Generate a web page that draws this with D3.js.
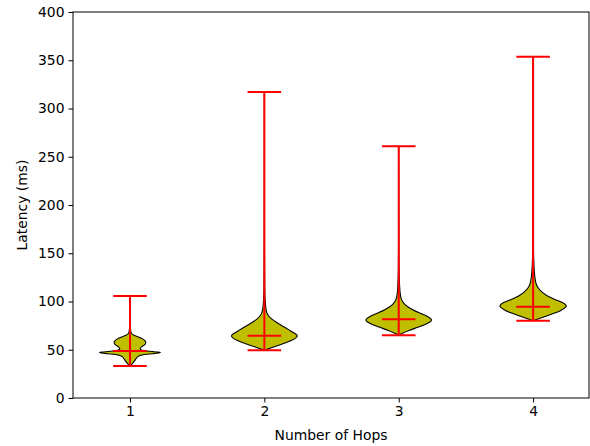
<!DOCTYPE html>
<html><head><meta charset="utf-8">
<script src="https://cdn.jsdelivr.net/npm/d3@7"></script>
<style>body{margin:0;background:#fff}text{font-family:"DejaVu Sans",sans-serif}</style>
</head><body><svg id="c" width="590" height="446"></svg>
<script>
const hops = [1, 2, 3, 4];
const yTicks = [0, 50, 100, 150, 200, 250, 300, 350, 400];
const mins = [33.2, 49.5, 65, 80.1];
const maxs = [105.7, 317, 261, 353.5];
const means = [48.8, 64.5, 81.5, 94.6];
// density profiles: [latency ms, relative half-width]
const profile1 = [[33,0],[36,0.08],[40,0.17],[43,0.22],[45,0.36],[46,0.7],[47,1.0],[48,0.72],[49,0.36],[51,0.28],[53,0.34],[55,0.44],[57,0.48],[59,0.46],[61,0.4],[63,0.28],[65,0.1],[67,0.03],[72,0.01],[85,0.004],[106,0]];
const profile2 = [[49.5,0],[52,0.2],[55,0.45],[58,0.7],[61,0.9],[64,1.0],[66,0.96],[70,0.76],[74,0.56],[78,0.38],[82,0.2],[86,0.1],[90,0.05],[100,0.025],[112,0.01],[130,0.004],[317,0]];
const profile3 = [[65,0],[67,0.1],[70,0.3],[73,0.55],[76,0.78],[79,0.95],[81,1.0],[84,0.9],[88,0.62],[92,0.38],[96,0.2],[100,0.1],[105,0.05],[115,0.025],[130,0.012],[140,0.005],[261,0]];
const profile4 = [[80,0],[82,0.15],[85,0.4],[88,0.65],[91,0.85],[94,0.98],[96,1.0],[99,0.9],[102,0.65],[106,0.4],[110,0.25],[115,0.12],[120,0.07],[130,0.035],[145,0.015],[160,0.005],[354,0]];
const profiles = [profile1, profile2, profile3, profile4];

const svg = d3.select("#c");
const L = 73, R = 589, T = 12, B = 398;
const x = d3.scaleLinear().domain([0.576, 4.416]).range([L, R]);
const y = d3.scaleLinear().domain([0, 400]).range([B, T]);
const halfW = 0.25, capW = 0.125;
const FS = 13.9;

const g = svg.append("g");
hops.forEach((h, i) => {
  const area = d3.area()
    .y(d => y(d[0]))
    .x0(d => x(h - d[1] * halfW))
    .x1(d => x(h + d[1] * halfW))
    .curve(d3.curveBasis);
  g.append("path").attr("d", area(profiles[i]))
    .attr("fill", "#bfbf00").attr("stroke", "#000").attr("stroke-width", 1.1);
  const red = "#ff0000";
  g.append("line").attr("x1", x(h)).attr("x2", x(h)).attr("y1", y(mins[i])).attr("y2", y(maxs[i]))
    .attr("stroke", red).attr("stroke-width", 2);
  [mins[i], maxs[i], means[i]].forEach(v => {
    g.append("line").attr("x1", x(h - capW)).attr("x2", x(h + capW)).attr("y1", y(v)).attr("y2", y(v))
      .attr("stroke", red).attr("stroke-width", 2);
  });
});

const ya = svg.append("g").attr("transform", `translate(${L},0)`)
  .call(d3.axisLeft(y).tickValues(yTicks).tickSize(4.5).tickPadding(4));
const xa = svg.append("g").attr("transform", `translate(0,${B})`)
  .call(d3.axisBottom(x).tickValues(hops).tickSize(4.5).tickPadding(4).tickFormat(d3.format("d")));
[ya, xa].forEach(a => {
  a.select(".domain").remove();
  a.selectAll("text").attr("font-size", FS).attr("fill", "#000").style("font-family", "DejaVu Sans");
  a.selectAll("line").attr("stroke", "#000").attr("stroke-width", 1);
});
svg.append("rect").attr("x", L).attr("y", T).attr("width", R - L).attr("height", B - T)
  .attr("fill", "none").attr("stroke", "#000").attr("stroke-width", 1);

svg.append("text").attr("x", (L + R) / 2).attr("y", 440).attr("text-anchor", "middle")
  .attr("font-size", FS).text("Number of Hops");
svg.append("text").attr("transform", `translate(27,${(T + B) / 2}) rotate(-90)`).attr("text-anchor", "middle")
  .attr("font-size", FS).text("Latency (ms)");
</script></body></html>
